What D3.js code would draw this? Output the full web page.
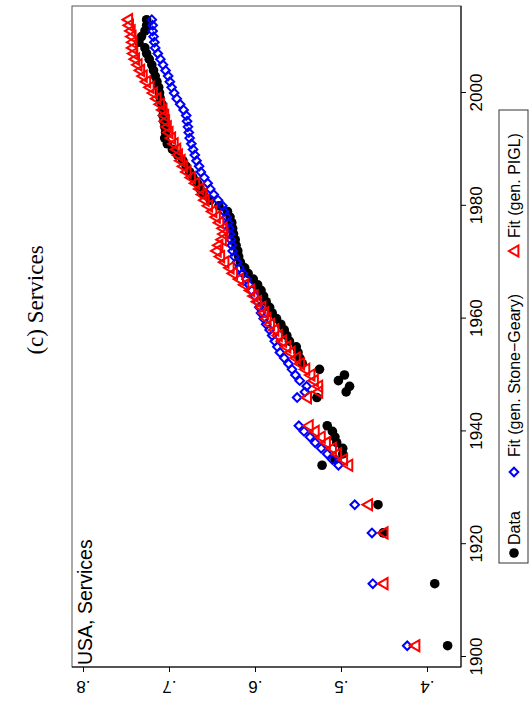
<!DOCTYPE html>
<html>
<head>
<meta charset="utf-8">
<script src="https://cdn.jsdelivr.net/npm/d3@7"></script>
<style>
  body { margin: 0; background: #fff; }
  svg text { font-family: "Liberation Sans", Arial, sans-serif; }
</style>
</head>
<body>
<div id="chart"></div>
<script>
// chart values (years and shares)
var years = [1902, 1913, 1922, 1927,
  1934, 1935, 1936, 1937, 1938, 1939, 1940, 1941,
  1946, 1947, 1948, 1949, 1950, 1951, 1952, 1953, 1954, 1955,
  1956, 1957, 1958, 1959, 1960, 1961, 1962, 1963, 1964, 1965,
  1966, 1967, 1968, 1969, 1970, 1971, 1972, 1973, 1974, 1975,
  1976, 1977, 1978, 1979, 1980, 1981, 1982, 1983, 1984, 1985,
  1986, 1987, 1988, 1989, 1990, 1991, 1992, 1993, 1994, 1995,
  1996, 1997, 1998, 1999, 2000, 2001, 2002, 2003, 2004, 2005,
  2006, 2007, 2008, 2009, 2010, 2011, 2012, 2013];

var dataVals = [0.376, 0.391, 0.451, 0.457,
  0.522, 0.507, 0.498, 0.498, 0.505, 0.507, 0.510, 0.516,
  0.528, 0.494, 0.490, 0.503, 0.496, 0.525, 0.545, 0.548, 0.550, 0.552,
  0.560, 0.563, 0.566, 0.570, 0.575, 0.580, 0.583, 0.587, 0.590, 0.593,
  0.597, 0.602, 0.608, 0.612, 0.617, 0.619, 0.620, 0.622, 0.623, 0.625,
  0.626, 0.627, 0.629, 0.632, 0.642, 0.652, 0.660, 0.664, 0.667, 0.672,
  0.676, 0.680, 0.684, 0.690, 0.696, 0.702, 0.705, 0.704, 0.705, 0.706,
  0.707, 0.707, 0.708, 0.710, 0.711, 0.712, 0.714, 0.716, 0.718, 0.720,
  0.723, 0.726, 0.728, 0.735, 0.732, 0.728, 0.726, 0.726];

var stoneGearyVals = [0.423, 0.463, 0.464, 0.484,
  0.503, 0.510, 0.516, 0.523, 0.530, 0.536, 0.543, 0.549,
  0.551, 0.542, 0.540, 0.548, 0.553, 0.557, 0.561, 0.566, 0.571, 0.574,
  0.577, 0.580, 0.583, 0.587, 0.590, 0.593, 0.595, 0.597, 0.600, 0.604,
  0.607, 0.610, 0.614, 0.618, 0.621, 0.624, 0.626, 0.627, 0.628, 0.629,
  0.630, 0.631, 0.633, 0.636, 0.638, 0.643, 0.648, 0.652, 0.655, 0.659,
  0.663, 0.665, 0.668, 0.670, 0.672, 0.674, 0.676, 0.677, 0.678, 0.679,
  0.680, 0.683, 0.687, 0.691, 0.694, 0.697, 0.699, 0.701, 0.704, 0.707,
  0.710, 0.713, 0.716, 0.717, 0.718, 0.719, 0.719, 0.720];

var piglVals = [0.414, 0.451, 0.451, 0.469,
  0.492, 0.498, 0.505, 0.511, 0.518, 0.524, 0.531, 0.538,
  0.540, 0.527, 0.527, 0.532, 0.536, 0.542, 0.548, 0.553, 0.559, 0.564,
  0.569, 0.574, 0.578, 0.583, 0.587, 0.590, 0.593, 0.598, 0.602, 0.606,
  0.613, 0.619, 0.626, 0.630, 0.636, 0.641, 0.645, 0.643, 0.639, 0.637,
  0.638, 0.642, 0.646, 0.650, 0.655, 0.659, 0.662, 0.665, 0.670, 0.675,
  0.680, 0.684, 0.687, 0.690, 0.692, 0.695, 0.698, 0.701, 0.703, 0.705,
  0.706, 0.708, 0.711, 0.715, 0.719, 0.723, 0.727, 0.731, 0.734, 0.737,
  0.740, 0.742, 0.743, 0.743, 0.744, 0.745, 0.747, 0.748];

var yearTicks = [1900, 1920, 1940, 1960, 1980, 2000];
var shareTicks = [0.4, 0.5, 0.6, 0.7, 0.8];
var legendLabels = ["Data", "Fit (gen. Stone\u2212Geary)", "Fit (gen. PIGL)"];

var pageW = 532, pageH = 708;

var svg = d3.select("#chart").append("svg")
  .attr("width", pageW)
  .attr("height", pageH);

// the figure sits sideways on the page: draw it landscape, then turn it
var fig = svg.append("g")
  .attr("transform", "translate(0," + pageH + ") rotate(-90)");

// plot region in landscape coordinates
var plot = {left: 41, right: 702, top: 72, bottom: 461};

var x = d3.scaleLinear().domain([1900, 2000]).range([51, 615]);
var y = d3.scaleLinear().domain([0.8, 0.4]).range([83, 427]);

// title
fig.append("text")
  .attr("x", 408)
  .attr("y", 35)
  .attr("dy", "0.35em")
  .attr("text-anchor", "middle")
  .style("font-family", "'Liberation Serif', 'Times New Roman', serif")
  .style("font-size", "23px")
  .text("(c) Services");

// plot frame
fig.append("rect")
  .attr("x", plot.left)
  .attr("y", plot.top)
  .attr("width", plot.right - plot.left)
  .attr("height", plot.bottom - plot.top)
  .attr("fill", "none")
  .attr("stroke", "#555")
  .attr("stroke-width", 1);

// share axis (left in landscape), labels stand vertical as in Stata
var yAxis = fig.append("g")
  .attr("transform", "translate(" + plot.left + ",0)")
  .call(d3.axisLeft(y).tickValues(shareTicks).tickSize(5)
    .tickFormat(function(d) { return d3.format(".1f")(d).replace(/^0/, ""); }));
yAxis.select(".domain").remove();
yAxis.append("line")
  .attr("x1", 0).attr("x2", 0)
  .attr("y1", plot.top).attr("y2", plot.bottom)
  .attr("stroke", "#000");
yAxis.selectAll(".tick text")
  .attr("x", -20)
  .attr("dy", "0.35em")
  .attr("text-anchor", "middle")
  .attr("transform", "rotate(-90,-20,0)")
  .style("font-size", "17px")
  .attr("fill", "#000");

// year axis (bottom in landscape)
var xAxis = fig.append("g")
  .attr("transform", "translate(0," + plot.bottom + ")")
  .call(d3.axisBottom(x).tickValues(yearTicks).tickSize(5).tickPadding(4)
    .tickFormat(d3.format("d")));
xAxis.select(".domain").remove();
xAxis.append("line")
  .attr("x1", plot.left).attr("x2", plot.right)
  .attr("y1", 0).attr("y2", 0)
  .attr("stroke", "#000");
xAxis.selectAll("text").style("font-size", "17px").attr("fill", "#000");

// panel label
fig.append("text")
  .attr("x", plot.left + 2)
  .attr("y", 92)
  .style("font-size", "19.5px")
  .text("USA, Services");

// marker shapes
var diamondPath = "M0,-4.3L4.3,0L0,4.3L-4.3,0Z";
var trianglePath = "M0,-5.2L5.6,4.4L-5.6,4.4Z";

var rows = years.map(function(yr, i) {
  return {year: yr, data: dataVals[i], sg: stoneGearyVals[i], pigl: piglVals[i]};
});

var markers = fig.append("g");

markers.selectAll(".dataDot")
  .data(rows)
  .enter().append("circle")
  .attr("class", "dataDot")
  .attr("r", 4.8)
  .attr("cx", function(d) { return x(d.year); })
  .attr("cy", function(d) { return y(d.data); })
  .attr("fill", "#000");

markers.selectAll(".sgFit")
  .data(rows)
  .enter().append("path")
  .attr("class", "sgFit")
  .attr("d", diamondPath)
  .attr("transform", function(d) { return "translate(" + x(d.year) + "," + y(d.sg) + ")"; })
  .attr("fill", "none")
  .attr("stroke", "#0000ff")
  .attr("stroke-width", 2);

markers.selectAll(".piglFit")
  .data(rows)
  .enter().append("path")
  .attr("class", "piglFit")
  .attr("d", trianglePath)
  .attr("transform", function(d) { return "translate(" + x(d.year) + "," + y(d.pigl) + ")"; })
  .attr("fill", "none")
  .attr("stroke", "#ff0000")
  .attr("stroke-width", 2);

// legend
var legend = fig.append("g");
legend.append("rect")
  .attr("x", 145)
  .attr("y", 499)
  .attr("width", 453)
  .attr("height", 29)
  .attr("fill", "#fff")
  .attr("stroke", "#333");

var legendMarkX = [155, 236, 457];
var legendTextX = [163, 251, 470];
var legendY = 514;

legend.append("circle")
  .attr("cx", legendMarkX[0]).attr("cy", legendY)
  .attr("r", 4.8).attr("fill", "#000");
legend.append("path")
  .attr("d", diamondPath)
  .attr("transform", "translate(" + legendMarkX[1] + "," + legendY + ")")
  .attr("fill", "none").attr("stroke", "#0000ff").attr("stroke-width", 2);
legend.append("path")
  .attr("d", trianglePath)
  .attr("transform", "translate(" + legendMarkX[2] + "," + legendY + ")")
  .attr("fill", "none").attr("stroke", "#ff0000").attr("stroke-width", 2);

legend.selectAll(".legLabel")
  .data(legendLabels)
  .enter().append("text")
  .attr("class", "legLabel")
  .attr("x", function(d, i) { return legendTextX[i]; })
  .attr("y", legendY)
  .attr("dy", "0.35em")
  .style("font-size", "16px")
  .text(function(d) { return d; });
</script>
</body>
</html>
